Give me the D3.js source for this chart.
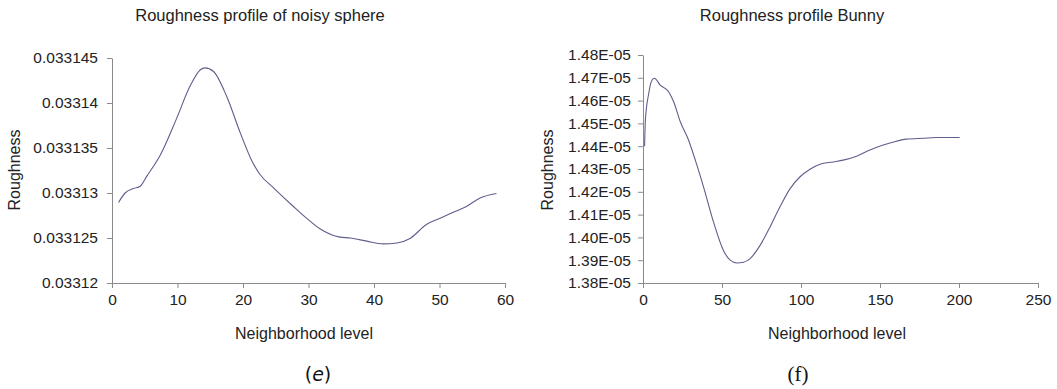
<!DOCTYPE html>
<html>
<head>
<meta charset="utf-8">
<script src="https://cdn.jsdelivr.net/npm/d3@7"></script>
<style>
  body { margin: 0; background: #fff; }
</style>
</head>
<body>
<svg id="chart" width="1057" height="389"></svg>
<script>
// sphere profile
let sphereLevels = [1, 2, 3.3, 4.3, 5.3, 7.4, 9.9, 11.9, 13.5, 14.2, 15.5, 17.5, 19.6, 21.4, 22.6,
  24.7, 27.7, 29.7, 31.8, 34.8, 36.4, 38.9, 41.4, 43.5, 45.5, 48, 50.1, 52.1, 54.1, 56.2, 58.7]
let sphereRough = [0.03312895, 0.03313, 0.0331305, 0.03313075, 0.03313185, 0.03313425, 0.03313835,
  0.03314185, 0.0331437, 0.0331439, 0.0331435, 0.03314075, 0.03313665, 0.0331335, 0.03313205,
  0.03313055, 0.0331285, 0.0331272, 0.033126, 0.0331251, 0.033125, 0.03312465, 0.03312435,
  0.03312445, 0.03312495, 0.0331265, 0.0331272, 0.03312785, 0.0331285, 0.03312945, 0.03312995]
let sphereYTicks = [0.03312, 0.033125, 0.03313, 0.033135, 0.03314, 0.033145]
let sphereYLabels = ['0.03312', '0.033125', '0.03313', '0.033135', '0.03314', '0.033145']
let sphereXTicks = [0, 10, 20, 30, 40, 50, 60]

// bunny profile
let bunnyLevels = [1, 1.5, 3.6, 5.1, 7.2, 10.9, 16.2, 19.4, 23.6, 28.8, 33.1, 38.3, 44.6, 50.9, 55.2,
  59.4, 63.6, 67.8, 74.1, 80.4, 86.7, 93.1, 99.4, 105.7, 112, 120.4, 126.7, 135.2, 143.6, 152,
  160.4, 166.7, 177.3, 185.7, 200.4]
let bunnyRough = [1.440e-5, 1.4514e-5, 1.463e-5, 1.468e-5, 1.4698e-5, 1.4668e-5, 1.4639e-5, 1.4595e-5,
  1.4507e-5, 1.4427e-5, 1.4339e-5, 1.4222e-5, 1.4068e-5, 1.3943e-5, 1.3900e-5, 1.3888e-5, 1.3891e-5,
  1.3907e-5, 1.3965e-5, 1.4046e-5, 1.4134e-5, 1.4214e-5, 1.4266e-5, 1.4299e-5, 1.4321e-5, 1.4331e-5,
  1.4339e-5, 1.4356e-5, 1.4383e-5, 1.4405e-5, 1.4422e-5, 1.4431e-5, 1.4435e-5, 1.4438e-5, 1.4438e-5]
let bunnyYTicks = [1.38e-5, 1.39e-5, 1.40e-5, 1.41e-5, 1.42e-5, 1.43e-5, 1.44e-5, 1.45e-5, 1.46e-5, 1.47e-5, 1.48e-5]
let bunnyYLabels = ['1.38E-05', '1.39E-05', '1.40E-05', '1.41E-05', '1.42E-05', '1.43E-05',
  '1.44E-05', '1.45E-05', '1.46E-05', '1.47E-05', '1.48E-05']
let bunnyXTicks = [0, 50, 100, 150, 200, 250]

let sans = '"Liberation Sans", Arial, sans-serif'
let svg = d3.select('#chart')

function panel(opt) {
  let x = d3.scaleLinear().domain(opt.xDomain).range([opt.left, opt.right])
  let y = d3.scaleLinear().domain(opt.yDomain).range([opt.bottom, opt.top])

  let xAxis = svg.append('g')
    .attr('transform', `translate(0, ${opt.bottom})`)
    .call(d3.axisBottom(x).tickValues(opt.xTicks).tickSize(5).tickSizeOuter(0).tickPadding(6))
  let yAxis = svg.append('g')
    .attr('transform', `translate(${opt.left}, 0)`)
    .call(d3.axisLeft(y).tickValues(opt.yTicks).tickSize(5).tickSizeOuter(0).tickPadding(opt.yPad)
      .tickFormat((d, i) => opt.yLabels[i]))

  for (let a of [xAxis, yAxis]) {
    a.selectAll('path, line').attr('stroke', '#8a8a8a')
    a.selectAll('text').style('font-size', '15.5px').style('font-family', sans).attr('fill', '#222')
  }

  let line = d3.line()
    .x((d, i) => x(opt.xs[i]))
    .y(d => y(d))
    .curve(d3.curveMonotoneX)

  svg.append('path')
    .attr('d', line(opt.ys))
    .attr('fill', 'none')
    .attr('stroke', '#5e5e8c')
    .attr('stroke-width', 1.1)

  svg.append('text')
    .attr('x', opt.titleX).attr('y', 21)
    .attr('text-anchor', 'middle')
    .style('font-family', sans).style('font-size', '16.5px').attr('fill', '#222')
    .text(opt.title)

  svg.append('text')
    .attr('x', opt.xLabelX).attr('y', 339)
    .attr('text-anchor', 'middle')
    .style('font-family', sans).style('font-size', '16px').attr('fill', '#222')
    .text('Neighborhood level')

  svg.append('text')
    .attr('transform', `translate(${opt.yLabelX}, 170) rotate(-90)`)
    .attr('text-anchor', 'middle')
    .style('font-family', sans).style('font-size', '16px').attr('fill', '#222')
    .text('Roughness')
}

panel({
  xDomain: [0, 60], yDomain: [0.03312, 0.033145],
  left: 112, right: 505, top: 58, bottom: 283,
  xTicks: sphereXTicks, yTicks: sphereYTicks, yLabels: sphereYLabels, yPad: 9,
  xs: sphereLevels, ys: sphereRough,
  title: 'Roughness profile of noisy sphere', titleX: 260, xLabelX: 304, yLabelX: 20
})

panel({
  xDomain: [0, 250], yDomain: [1.38e-5, 1.48e-5],
  left: 643, right: 1038, top: 55, bottom: 283,
  xTicks: bunnyXTicks, yTicks: bunnyYTicks, yLabels: bunnyYLabels, yPad: 7,
  xs: bunnyLevels, ys: bunnyRough,
  title: 'Roughness profile Bunny', titleX: 792, xLabelX: 837, yLabelX: 553
})

// sub-figure captions
let cap = svg.append('text')
  .attr('x', 318).attr('y', 381)
  .attr('text-anchor', 'middle')
  .style('font-family', '"DejaVu Sans", sans-serif')
  .style('font-size', '19px')
  .attr('fill', '#111')
cap.append('tspan').text('(')
cap.append('tspan').style('font-style', 'italic').text('e')
cap.append('tspan').text(')')

svg.append('text')
  .attr('x', 798).attr('y', 381)
  .attr('text-anchor', 'middle')
  .style('font-family', '"Liberation Serif", serif')
  .style('font-size', '21px')
  .attr('fill', '#111')
  .text('(f)')
</script>
</body>
</html>
